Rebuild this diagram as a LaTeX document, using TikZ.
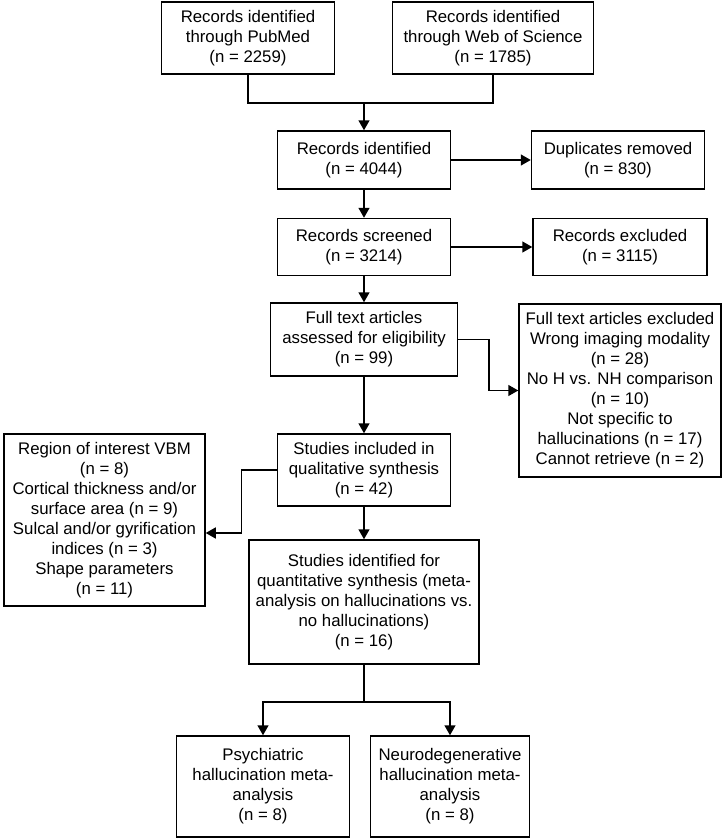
\documentclass[tikz,border=0pt]{standalone}
\usepackage{fontspec}
\setmainfont{Liberation Sans}
\usetikzlibrary{arrows.meta,calc}
\tikzset{
  box/.style={draw=black, line width=1.5pt, inner sep=0pt, align=center,
    font=\fontsize{16.8}{20}\selectfont, anchor=center},
  conn/.style={draw=black, line width=1.5pt},
  arr/.style={conn, -{Triangle[length=10pt,width=11pt]}},
}
\begin{document}
\begin{tikzpicture}[x=1pt,y=-1pt]
\useasboundingbox (0,0) rectangle (722,838);
\node[box, minimum width=173pt, minimum height=72pt] (pub) at (248,38) {Records identified\\through PubMed\\(n = 2259)};
\node[box, minimum width=201pt, minimum height=72pt] (wos) at (493,38) {Records identified\\through Web of Science\\(n = 1785)};
\node[box, minimum width=173pt, minimum height=58pt] (rec) at (364,160) {Records identified\\(n = 4044)};
\node[box, minimum width=173pt, minimum height=58pt] (dup) at (618,160) {Duplicates removed\\(n = 830)};
\node[box, minimum width=173pt, minimum height=57pt] (scr) at (364,247) {Records screened\\(n = 3214)};
\node[box, minimum width=174pt, minimum height=57pt] (exc) at (620,247) {Records excluded\\(n = 3115)};
\node[box, minimum width=187pt, minimum height=73pt] (full) at (364,339.5) {Full text articles\\assessed for eligibility\\(n = 99)};
\node[box, minimum width=202pt, minimum height=173pt] (ftx) at (620,390.5) {Full text articles excluded\\Wrong imaging modality\\(n = 28)\\No H vs. NH comparison\\(n = 10)\\Not specific to\\hallucinations (n = 17)\\Cannot retrieve (n = 2)};
\node[box, minimum width=173pt, minimum height=72pt] (incl) at (364,470) {Studies included in\\qualitative synthesis\\(n = 42)};
\node[box, minimum width=201pt, minimum height=172pt] (roi) at (104.5,520) {Region of interest VBM\\(n = 8)\\Cortical thickness and/or\\surface area (n = 9)\\Sulcal and/or gyrification\\indices (n = 3)\\Shape parameters\\(n = 11)};
\node[box, minimum width=230pt, minimum height=124pt] (quant) at (364,602) {Studies identified for\\quantitative synthesis (meta-\\analysis on hallucinations vs.\\no hallucinations)\\(n = 16)};
\node[box, minimum width=173pt, minimum height=101pt] (psy) at (263,786.5) {Psychiatric\\hallucination meta-\\analysis\\(n = 8)};
\node[box, minimum width=159pt, minimum height=101pt] (neu) at (450,786.5) {Neurodegenerative\\hallucination meta-\\analysis\\(n = 8)};
\coordinate (m) at (364,103);
\draw[conn] (pub.south) |- (m) -| (wos.south);
\draw[arr] (m) -- (rec.north);
\draw[arr] (rec.east) -- (dup.west);
\draw[arr] (rec.south) -- (scr.north);
\draw[arr] (scr.east) -- (exc.west);
\draw[arr] (scr.south) -- (full.north);
\draw[arr] (full.east) -- ++(30.5,0) |- (ftx.west);
\draw[arr] (full.south) -- (incl.north);
\draw[arr] (incl.west) -- ++(-35.5,0) |- ([yshift=-13pt]roi.east);
\draw[arr] (incl.south) -- (quant.north);
\coordinate (q) at ($(quant.south)+(0,37)$);
\draw[conn] (quant.south) -- (q);
\draw[arr] (q) -| (psy.north);
\draw[arr] (q) -| (neu.north);
\end{tikzpicture}
\end{document}
